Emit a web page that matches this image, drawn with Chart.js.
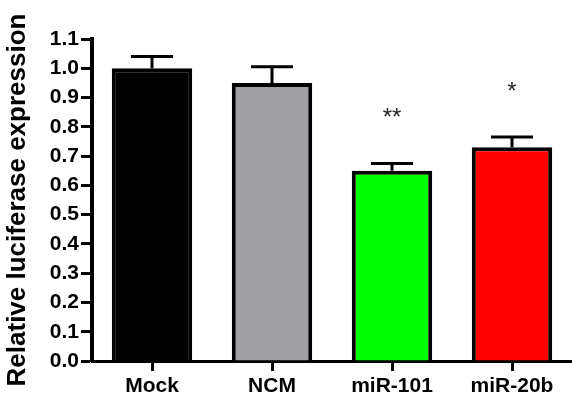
<!DOCTYPE html>
<html>
<head>
<meta charset="utf-8">
<script src="https://cdn.jsdelivr.net/npm/chart.js@4/dist/chart.umd.min.js"></script>
<style>
html,body{margin:0;padding:0;background:#fff;}
#wrap{width:572px;height:402px;position:relative;}
</style>
</head>
<body>
<div id="wrap"><canvas id="c" width="572" height="402"></canvas></div>
<script>
const categories = ['Mock', 'NCM', 'miR-101', 'miR-20b'];
const values = [1.00, 0.95, 0.65, 0.73];
const errors = [0.04, 0.055, 0.025, 0.035];
const sigLabels = ['', '', '**', '*'];
const barColors = ['#000000', '#a0a0a4', '#00ff00', '#ff0000'];
const yTicks = [0.0, 0.1, 0.2, 0.3, 0.4, 0.5, 0.6, 0.7, 0.8, 0.9, 1.0, 1.1];
const yTitle = 'Relative luciferase expression';

const FONT = "'Liberation Sans', Arial, Helvetica, sans-serif";

const errorBarPlugin = {
  id: 'errorBars',
  afterDatasetsDraw(chart) {
    const ctx = chart.ctx;
    const meta = chart.getDatasetMeta(0);
    const ys = chart.scales.y;
    ctx.save();
    ctx.strokeStyle = '#000';
    ctx.lineWidth = 3;
    ctx.lineCap = 'butt';
    meta.data.forEach((bar, i) => {
      const x = bar.x;
      const yv = ys.getPixelForValue(values[i]);
      const ye = ys.getPixelForValue(values[i] + errors[i]);
      ctx.beginPath();
      ctx.moveTo(x, yv);
      ctx.lineTo(x, ye);
      ctx.moveTo(x - 21, ye);
      ctx.lineTo(x + 21, ye);
      ctx.stroke();
      if (sigLabels[i]) {
        ctx.fillStyle = '#222';
        ctx.font = '24px ' + FONT;
        ctx.textAlign = 'center';
        ctx.textBaseline = 'alphabetic';
        ctx.fillText(sigLabels[i], x, ye - 38);
      }
    });
    ctx.restore();
  }
};

new Chart(document.getElementById('c'), {
  type: 'bar',
  data: {
    labels: categories,
    datasets: [{
      data: values,
      backgroundColor: barColors,
      borderColor: '#000',
      borderWidth: 4,
      barPercentage: 0.67,
      categoryPercentage: 1.0
    }]
  },
  options: {
    responsive: false,
    animation: false,
    devicePixelRatio: 1,
    layout: { padding: { top: 39, right: 0, left: 0, bottom: 0 } },
    plugins: { legend: { display: false }, tooltip: { enabled: false } },
    scales: {
      x: {
        offset: true,
        grid: { offset: false, drawOnChartArea: false, drawTicks: true, tickLength: 10, tickWidth: 3, tickColor: '#000' },
        border: { display: true, color: '#000', width: 3 },
        ticks: { color: '#000', padding: 3, font: { family: FONT, size: 21, weight: 'bold' }, maxRotation: 0 },
        afterFit(scale) { scale.height = 41; }
      },
      y: {
        min: 0,
        max: 1.1,
        afterBuildTicks(scale) { scale.ticks = yTicks.map(v => ({ value: v })); },
        grid: { drawOnChartArea: false, drawTicks: true, tickLength: 11, tickWidth: 3, tickColor: '#000' },
        border: { display: true, color: '#000', width: 4 },
        ticks: { color: '#000', padding: 2, font: { family: FONT, size: 21, weight: 'bold' }, callback: (v) => Number(v).toFixed(1) },
        title: { display: true, text: yTitle, color: '#000', padding: { top: 2, bottom: 2 }, font: { family: FONT, size: 26, weight: 'bold' } },
        afterFit(scale) { scale.width = 92; }
      }
    }
  },
  plugins: [errorBarPlugin]
});
</script>
</body>
</html>
